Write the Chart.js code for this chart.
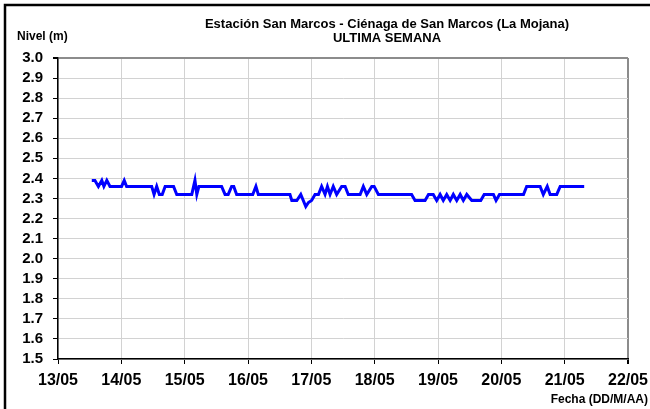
<!DOCTYPE html>
<html>
<head>
<meta charset="utf-8">
<title>Estación San Marcos - Nivel</title>
<script src="https://cdn.jsdelivr.net/npm/chart.js@4/dist/chart.umd.min.js"></script>
<style>
  html, body { margin: 0; padding: 0; background: #ffffff; }
  #wrap { width: 650px; height: 409px; position: relative; }
  canvas { display: block; }
</style>
</head>
<body>
<div id="wrap"><canvas id="chart" width="650" height="409"></canvas></div>
<script>
// Water level readings: time in hours counted from 13/05 00:00, level in metres
const hours = [
  12.8, 14.0, 15.3, 16.6, 17.4, 18.5, 19.7, 24.1, 25.1, 26.0,
  35.5, 36.4, 37.4, 38.4, 39.5, 40.6, 43.8, 45.0, 50.7, 51.9,
  52.6, 53.4, 62.0, 63.3, 64.5, 65.8, 66.6, 67.7, 73.8, 75.0,
  75.9, 87.9, 88.6, 90.5, 92.0, 93.9, 94.9, 96.1, 97.4, 98.7,
  99.9, 101.2, 102.1, 103.1, 104.3, 105.6, 107.5, 108.8, 110.0, 114.5,
  115.7, 117.0, 118.9, 119.8, 121.4, 134.0, 135.3, 139.1, 140.4, 142.2,
  143.5, 144.8, 146.0, 147.3, 148.6, 149.8, 151.1, 152.4, 153.6, 154.9,
  156.8, 160.2, 161.5, 165.0, 166.0, 167.3, 176.4, 177.6, 182.7, 183.9,
  185.4, 186.5, 189.0, 190.3, 199.4
];
const levels = [
  2.39, 2.39, 2.36, 2.39, 2.36, 2.39, 2.36, 2.36, 2.39, 2.36,
  2.36, 2.32, 2.36, 2.32, 2.32, 2.36, 2.36, 2.32, 2.32, 2.39,
  2.32, 2.36, 2.36, 2.32, 2.32, 2.36, 2.36, 2.32, 2.32, 2.36,
  2.32, 2.32, 2.29, 2.29, 2.32, 2.26, 2.28, 2.29, 2.32, 2.32,
  2.36, 2.32, 2.36, 2.32, 2.36, 2.32, 2.36, 2.36, 2.32, 2.32,
  2.36, 2.32, 2.36, 2.36, 2.32, 2.32, 2.29, 2.29, 2.32, 2.32,
  2.29, 2.32, 2.29, 2.32, 2.29, 2.32, 2.29, 2.32, 2.29, 2.32,
  2.29, 2.29, 2.32, 2.32, 2.29, 2.32, 2.32, 2.36, 2.36, 2.32,
  2.36, 2.32, 2.32, 2.36, 2.36
];
// Date tick labels, one per day
const dayLabels = ['13/05', '14/05', '15/05', '16/05', '17/05', '18/05', '19/05', '20/05', '21/05', '22/05'];
// Level axis range and step (m)
const levelMin = 1.5;
const levelMax = 3.0;
const levelStep = 0.1;

const titleLines = ['Estación San Marcos - Ciénaga de San Marcos (La Mojana)', 'ULTIMA SEMANA'];
const yAxisTitle = 'Nivel (m)';
const xAxisTitle = 'Fecha (DD/M/AA)';

const FONT = "'Liberation Sans', Arial, Helvetica, sans-serif";

const points = hours.map((h, i) => ({ x: h, y: levels[i] }));
const levelCount = Math.round((levelMax - levelMin) / levelStep);

// Frame, chart titles and axis captions drawn on top of the chart
const decorations = {
  id: 'decorations',
  afterDraw(chart) {
    const ctx = chart.ctx;
    ctx.save();
    // outer frame (top and left edges)
    ctx.strokeStyle = '#000000';
    ctx.lineWidth = 2.5;
    ctx.beginPath();
    ctx.moveTo(5, 420);
    ctx.lineTo(5, 5);
    ctx.lineTo(660, 5);
    ctx.stroke();

    ctx.fillStyle = '#000000';
    ctx.textBaseline = 'middle';
    ctx.textAlign = 'center';
    ctx.font = 'bold 13px ' + FONT;
    ctx.fillText(titleLines[0], 387, 24);
    ctx.fillText(titleLines[1], 387, 38);

    ctx.textAlign = 'left';
    ctx.font = 'bold 12px ' + FONT;
    ctx.fillText(yAxisTitle, 17, 37);

    ctx.textAlign = 'right';
    ctx.font = 'bold 12px ' + FONT;
    ctx.fillText(xAxisTitle, 648, 400);
    ctx.restore();
  }
};

new Chart(document.getElementById('chart'), {
  type: 'line',
  data: {
    datasets: [{
      data: points,
      borderColor: '#0000ff',
      borderWidth: 3,
      pointRadius: 0,
      tension: 0,
      fill: false
    }]
  },
  options: {
    responsive: false,
    animation: false,
    devicePixelRatio: 1,
    layout: { padding: { top: 58, right: 22, left: 0, bottom: 0 } },
    plugins: {
      legend: { display: false },
      tooltip: { enabled: false },
      title: { display: false }
    },
    scales: {
      x: {
        type: 'linear',
        min: 0,
        max: (dayLabels.length - 1) * 24,
        afterFit(scale) {
          scale.height = 50;
          scale.paddingLeft = 0;
          scale.paddingRight = 0;
        },
        afterBuildTicks(scale) {
          scale.ticks = dayLabels.map((_, i) => ({ value: i * 24 }));
        },
        ticks: {
          autoSkip: false,
          maxRotation: 0,
          padding: 7,
          color: '#000000',
          font: { family: FONT, size: 16, weight: 'bold' },
          callback: (v) => dayLabels[Math.round(v / 24)]
        },
        grid: {
          color: (c) => c.index === dayLabels.length - 1 ? '#8c8c8c' : '#d2d2d2',
          lineWidth: (c) => c.index === dayLabels.length - 1 ? 2 : 1,
          tickLength: 5,
          tickColor: '#000000'
        },
        border: { display: true, color: '#000000', width: 1.5 }
      },
      y: {
        min: levelMin,
        max: levelMax,
        afterFit(scale) {
          scale.width = 58;
          scale.paddingTop = 0;
          scale.paddingBottom = 0;
        },
        afterBuildTicks(scale) {
          const t = [];
          for (let i = 0; i <= levelCount; i++) t.push({ value: +(levelMin + i * levelStep).toFixed(1) });
          scale.ticks = t;
        },
        ticks: {
          autoSkip: false,
          padding: 10,
          color: '#000000',
          font: { family: FONT, size: 15, weight: 'bold' },
          callback: (v) => Number(v).toFixed(1)
        },
        grid: {
          color: (c) => c.index === levelCount ? '#8c8c8c' : '#d2d2d2',
          lineWidth: (c) => c.index === levelCount ? 2 : 1,
          tickLength: 5,
          tickColor: '#000000'
        },
        border: { display: true, color: '#000000', width: 1.5 }
      }
    }
  },
  plugins: [decorations]
});
</script>
</body>
</html>
